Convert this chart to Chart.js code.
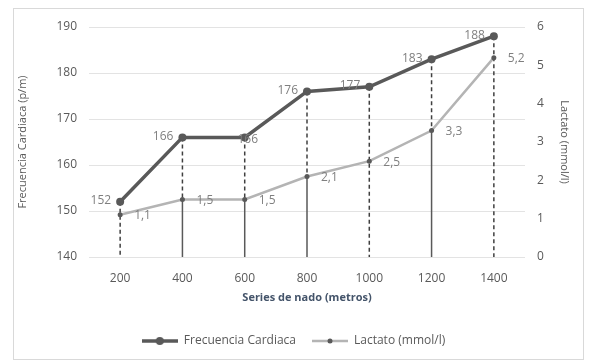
<!DOCTYPE html>
<html lang="es">
  <head>
    <meta charset="UTF-8" />
    <title>Frecuencia cardiaca y lactato</title>
    <script src="https://cdn.jsdelivr.net/npm/chart.js@4"></script>
    <style>
      html, body { margin: 0; padding: 0; background: #fff; }
      #wrap { position: relative; width: 592px; height: 364px; }
      #frame { position: absolute; left: 13px; top: 8px; width: 571px; height: 352px; border: 1px solid #d9d9d9; box-sizing: border-box; }
      canvas { position: absolute; left: 0; top: 0; }
    </style>
  </head>
  <body>
    <div id="wrap">
      <div id="frame"></div>
      <canvas id="chart" width="592" height="364"></canvas>
    </div>
    <script>
      // datos
      const series = ["200", "400", "600", "800", "1000", "1200", "1400"];
      const frecuencia = [152, 166, 166, 176, 177, 183, 188];
      const lactato = [1.1, 1.5, 1.5, 2.1, 2.5, 3.3, 5.2];
      const ticksFC = [140, 150, 160, 170, 180, 190];
      const ticksLactato = [0, 1, 2, 3, 4, 5, 6];

      const fuente = "'Open Sans', 'Noto Sans', sans-serif";

      function iconoLeyenda(color, grosor, radio, colorPunto) {
        const c = document.createElement("canvas");
        c.width = 36;
        c.height = 10;
        const g = c.getContext("2d");
        g.strokeStyle = color;
        g.lineWidth = grosor;
        g.beginPath();
        g.moveTo(0, 5);
        g.lineTo(36, 5);
        g.stroke();
        g.fillStyle = colorPunto;
        g.beginPath();
        g.arc(18, 5, radio, 0, Math.PI * 2);
        g.fill();
        return c;
      }

      // lineas verticales hasta el eje
      const lineasVerticales = {
        id: "lineasVerticales",
        beforeDatasetsDraw(chart) {
          const { ctx, scales } = chart;
          const abajo = chart.chartArea.bottom;
          const solidas = [false, true, true, true, false, true, false];
          ctx.save();
          series.forEach((s, i) => {
            const x = scales.x.getPixelForValue(i);
            const yFC = scales.yFC.getPixelForValue(frecuencia[i]);
            const yLac = scales.yLac.getPixelForValue(lactato[i]);
            ctx.strokeStyle = "#404040";
            ctx.lineWidth = 1.5;
            ctx.setLineDash([4, 3]);
            ctx.beginPath();
            ctx.moveTo(x, yFC);
            ctx.lineTo(x, solidas[i] ? yLac : abajo);
            ctx.stroke();
            if (solidas[i]) {
              ctx.setLineDash([]);
              ctx.strokeStyle = "#595959";
              ctx.beginPath();
              ctx.moveTo(x, yLac);
              ctx.lineTo(x, abajo);
              ctx.stroke();
            }
          });
          ctx.restore();
        },
      };

      // etiquetas de datos
      const etiquetas = {
        id: "etiquetas",
        afterDatasetsDraw(chart) {
          const { ctx, scales } = chart;
          ctx.save();
          ctx.font = "12px " + fuente;
          ctx.fillStyle = "#7f7f7f";
          ctx.textBaseline = "middle";
          series.forEach((s, i) => {
            const x = scales.x.getPixelForValue(i);
            const yFC = scales.yFC.getPixelForValue(frecuencia[i]);
            ctx.textAlign = "right";
            if (i === 2) {
              ctx.textAlign = "center";
              ctx.fillText(String(frecuencia[i]), x + 3, yFC + 2);
            } else {
              ctx.fillText(String(frecuencia[i]), x - 9, yFC - 1);
            }
            const yLac = scales.yLac.getPixelForValue(lactato[i]);
            ctx.textAlign = "left";
            ctx.fillText(lactato[i].toFixed(1).replace(".", ","), x + 14, yLac + 1);
          });
          ctx.restore();
        },
      };

      new Chart(document.getElementById("chart"), {
        type: "line",
        data: {
          labels: series,
          datasets: [
            {
              label: "Frecuencia Cardiaca",
              data: frecuencia,
              yAxisID: "yFC",
              borderColor: "#595959",
              backgroundColor: "#595959",
              borderWidth: 3.5,
              pointRadius: 4,
              pointBackgroundColor: "#595959",
              pointBorderWidth: 0,
              tension: 0,
            },
            {
              label: "Lactato (mmol/l)",
              data: lactato,
              yAxisID: "yLac",
              borderColor: "#b4b4b4",
              backgroundColor: "#b4b4b4",
              borderWidth: 2.5,
              pointRadius: 2.5,
              pointBackgroundColor: "#595959",
              pointBorderWidth: 0,
              tension: 0,
            },
          ],
        },
        options: {
          responsive: false,
          animation: false,
          layout: { padding: { left: 12, right: 17, top: 27, bottom: 7 } },
          plugins: {
            tooltip: { enabled: false },
            legend: {
              position: "bottom",
              labels: {
                usePointStyle: true,
                pointStyleWidth: 36,
                padding: 16,
                color: "#595959",
                font: { family: fuente, size: 12 },
                generateLabels(chart) {
                  return chart.data.datasets.map((d, i) => ({
                    text: d.label,
                    datasetIndex: i,
                    fontColor: "#595959",
                    pointStyle: i === 0
                      ? iconoLeyenda("#595959", 3.5, 4, "#595959")
                      : iconoLeyenda("#b4b4b4", 2.5, 2.5, "#595959"),
                    lineWidth: 0,
                    strokeStyle: "transparent",
                    fillStyle: "transparent",
                  }));
                },
              },
            },
          },
          scales: {
            x: {
              offset: true,
              grid: { display: false },
              border: { display: false },
              ticks: { color: "#595959", padding: 6, font: { family: fuente, size: 12 } },
              title: {
                display: true,
                text: "Series de nado (metros)",
                color: "#44546a",
                font: { family: fuente, size: 11, weight: "bold" },
                padding: { top: 4, bottom: 15 },
              },
              afterFit(s) { s.height = 62; },
            },
            yFC: {
              position: "left",
              min: ticksFC[0],
              max: ticksFC[ticksFC.length - 1],
              ticks: { stepSize: 10, color: "#595959", padding: 12, font: { family: fuente, size: 12 } },
              grid: { color: "#e3e3e3", drawTicks: false, lineWidth: 1 },
              border: { display: false },
              title: {
                display: true,
                text: "Frecuencia Cardiaca (p/m)",
                color: "#595959",
                font: { family: fuente, size: 11 },
                padding: 4,
              },
              afterFit(s) { s.width = 77; },
            },
            yLac: {
              position: "right",
              min: ticksLactato[0],
              max: ticksLactato[ticksLactato.length - 1],
              ticks: { stepSize: 1, color: "#595959", padding: 12, font: { family: fuente, size: 12 } },
              grid: { display: false, drawTicks: false },
              border: { display: false },
              title: {
                display: true,
                text: "Lactato (mmol/l)",
                color: "#595959",
                font: { family: fuente, size: 11 },
                padding: 4,
              },
              afterFit(s) { s.width = 50; },
            },
          },
        },
        plugins: [lineasVerticales, etiquetas],
      });
    </script>
  </body>
</html>
